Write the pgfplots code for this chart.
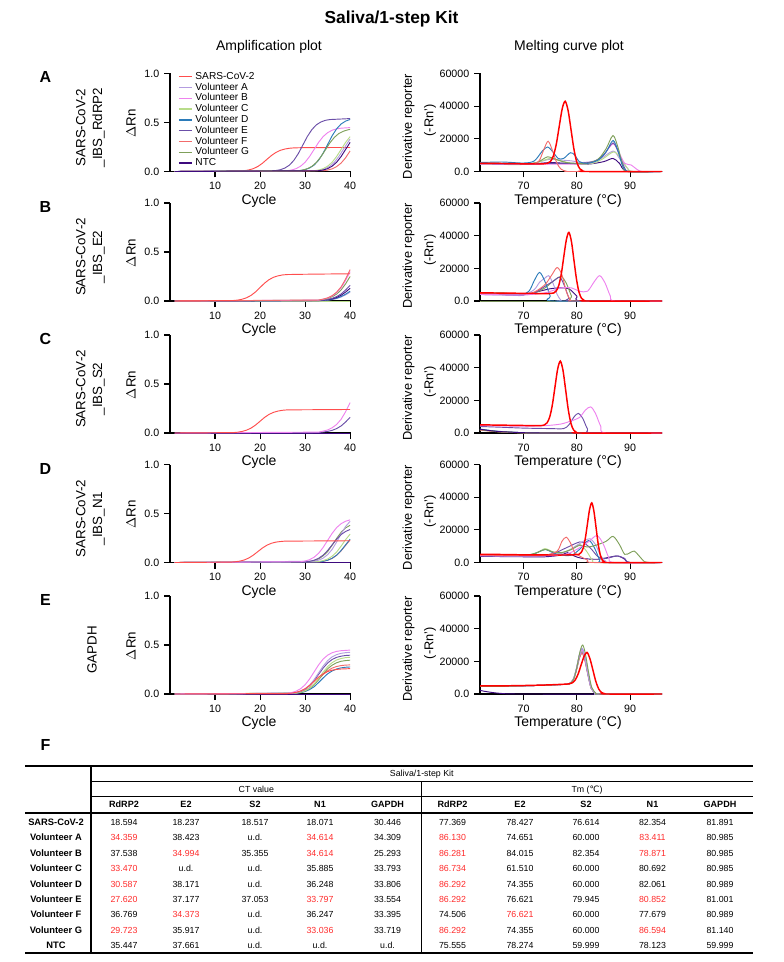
\documentclass[border=0pt]{standalone}
\usepackage{fontspec}
\setmainfont{Liberation Sans}
\newfontfamily\dejavu{DejaVu Sans}
\usepackage{pgfplots}
\pgfplotsset{compat=1.18}

\definecolor{cS}{HTML}{FF4D4D}
\definecolor{cSm}{HTML}{FF0000}
\definecolor{cA}{HTML}{B49CE0}
\definecolor{cB}{HTML}{EE82EE}
\definecolor{cC}{HTML}{B8DC8A}
\definecolor{cD}{HTML}{2B7BB9}
\definecolor{cE}{HTML}{6B4FA8}
\definecolor{cF}{HTML}{F26B6B}
\definecolor{cG}{HTML}{7FA05A}
\definecolor{cN}{HTML}{3D0A7E}
\definecolor{tred}{HTML}{FF2A2A}

\pgfplotsset{
 base/.style={scale only axis, anchor=south west, axis x line*=bottom, axis y line*=left,
   axis line style={-, line width=1pt, black}, tick style={line width=0.8pt, black},
   major tick length=4.5pt, tick align=outside, clip=false,
   tick label style={font=\fontsize{8}{9}\selectfont},
   /pgf/number format/assume math mode=true,
   every axis plot/.append style={line width=0.7pt, mark=none}},
 amp/.style={base, width=135.75pt, height=73.5pt, xmin=0, xmax=40.2, ymin=0, ymax=1,
   xtick={10,20,30,40}, ytick={0,0.5,1}, yticklabels={0.0,0.5,1.0}},
 melt/.style={base, width=136.5pt, height=73.5pt, xmin=61.8, xmax=96, ymin=0, ymax=60000,
   xtick={70,80,90}, ytick={0,20000,40000,60000}, yticklabels={0.0,20000,40000,60000},
   scaled y ticks=false, every axis plot/.append style={smooth, tension=0.5}},
}

\newcommand{\R}[1]{\textcolor{tred}{#1}}
\newcommand{\trow}[7]{%
 \node[font=\fontsize{7}{8}\selectfont\bfseries] at (56,#1) {#2};
 \node at (124,#1) {#3}; \node at (186,#1) {#4}; \node at (255,#1) {#5};
 \node at (320,#1) {#6}; \node at (387.5,#1) {#7};}
\newcommand{\trowb}[6]{%
 \node at (452.5,#1) {#2}; \node at (520,#1) {#3}; \node at (586,#1) {#4};
 \node at (652.5,#1) {#5}; \node at (720,#1) {#6};}

\begin{document}
\begin{tikzpicture}
\begin{scope}[x=0.75pt,y=-0.75pt]
\path[use as bounding box] (0,0) rectangle (783,962);
% titles
\node[font=\fontsize{13}{15}\selectfont\bfseries] at (391.5,19) {Saliva/1-step Kit};
\node[font=\fontsize{10.5}{12}\selectfont] at (269,46.7) {Amplification plot};
\node[font=\fontsize{10.5}{12}\selectfont] at (569,46.7) {Melting curve plot};
% panel letters
\foreach \l/\b in {A/171.5,B/301,C/433,D/562.5,E/694}{
  \node[font=\fontsize{12}{14}\selectfont\bfseries] at (45.5,\b-94) {\l};
  \node[font=\fontsize{10}{12}\selectfont, rotate=90] at (131,\b-48) {$\Delta$Rn};
  \node[font=\fontsize{9.6}{11}\selectfont, rotate=90] at (408.5,\b-45) {Derivative reporter};
  \node[font=\fontsize{9.6}{11}\selectfont, rotate=90] at (430,\b-51) {(-Rn')};
  \node[font=\fontsize{10.5}{12}\selectfont] at (259,\b+29) {Cycle};
  \node[font=\fontsize{10.5}{12}\selectfont] at (568,\b+29) {Temperature (°C)};
}
\node[font=\fontsize{10}{12.5}\selectfont, rotate=90, align=center] at (90.5,127.5) {SARS-CoV-2\\\_IBS\_RdRP2};
\node[font=\fontsize{10}{12.5}\selectfont, rotate=90, align=center] at (90.5,257) {SARS-CoV-2\\\_IBS\_E2};
\node[font=\fontsize{10}{12.5}\selectfont, rotate=90, align=center] at (90.5,389) {SARS-CoV-2\\\_IBS\_S2};
\node[font=\fontsize{10}{12.5}\selectfont, rotate=90, align=center] at (90.5,518.5) {SARS-CoV-2\\\_IBS\_N1};
\node[font=\fontsize{10}{12.5}\selectfont, rotate=90, align=center] at (92,650) {GAPDH};
\node[font=\fontsize{12}{14}\selectfont\bfseries] at (45.5,745) {F};
% table
\draw[line width=1.5pt] (25,765.7) -- (752.5,765.7);
\draw[line width=0.9pt] (91,781.7) -- (752.5,781.7);
\draw[line width=0.9pt] (91,796.7) -- (752.5,796.7);
\draw[line width=1.3pt] (25,812.7) -- (752.5,812.7);
\draw[line width=1.8pt] (25,952.7) -- (752.5,952.7);
\draw[line width=0.9pt] (91,765.7) -- (91,952.7);
\draw[line width=0.9pt] (421.5,781.7) -- (421.5,952.7);
\begin{scope}[every node/.style={font=\fontsize{6.6}{7.5}\selectfont, inner sep=0pt, text height=4.8pt, text depth=0pt, anchor=center}]
\node at (421.75,773.7) {Saliva/1-step Kit};
\node at (256.3,789.2) {CT value};
\node at (587,789.2) {Tm ({\dejavu ℃})};
\begin{scope}[every node/.append style={font=\fontsize{6.8}{7.5}\selectfont\bfseries}]
\trow{804.7}{}{RdRP2}{E2}{S2}{N1}{GAPDH}
\trowb{804.7}{RdRP2}{E2}{S2}{N1}{GAPDH}
\end{scope}
\trow{822.3}{SARS-CoV-2}{18.594}{18.237}{18.517}{18.071}{30.446}
\trowb{822.3}{77.369}{78.427}{76.614}{82.354}{81.891}
\trow{837.7}{Volunteer A}{\R{34.359}}{38.423}{u.d.}{\R{34.614}}{34.309}
\trowb{837.7}{\R{86.130}}{74.651}{60.000}{\R{83.411}}{80.985}
\trow{853.05}{Volunteer B}{37.538}{\R{34.994}}{35.355}{\R{34.614}}{25.293}
\trowb{853.05}{\R{86.281}}{84.015}{82.354}{\R{78.871}}{80.985}
\trow{868.4}{Volunteer C}{\R{33.470}}{u.d.}{u.d.}{35.885}{33.793}
\trowb{868.4}{\R{86.734}}{61.510}{60.000}{80.692}{80.985}
\trow{883.8}{Volunteer D}{\R{30.587}}{38.171}{u.d.}{36.248}{33.806}
\trowb{883.8}{\R{86.292}}{74.355}{60.000}{82.061}{80.989}
\trow{899.2}{Volunteer E}{\R{27.620}}{37.177}{37.053}{\R{33.797}}{33.554}
\trowb{899.2}{\R{86.292}}{76.621}{79.945}{\R{80.852}}{81.001}
\trow{914.55}{Volunteer F}{36.769}{\R{34.373}}{u.d.}{36.247}{33.395}
\trowb{914.55}{74.506}{\R{76.621}}{60.000}{77.679}{80.989}
\trow{929.9}{Volunteer G}{\R{29.723}}{35.917}{u.d.}{\R{33.036}}{33.719}
\trowb{929.9}{\R{86.292}}{74.355}{60.000}{\R{86.594}}{81.140}
\trow{945.3}{NTC}{35.447}{37.661}{u.d.}{u.d.}{u.d.}
\trowb{945.3}{75.555}{78.274}{59.999}{78.123}{59.999}
\end{scope}
\end{scope}

% ================= Amplification A
\begin{axis}[amp, at={(127.5pt,-128.625pt)},
  legend style={at={(0.045,1.04)}, anchor=north west, draw=none, fill=none, inner sep=0pt, outer sep=0pt,
    font=\fontsize{7.6}{8}\selectfont, row sep=-2.9pt},
  legend cell align=left,
  legend image code/.code={\draw[#1, line width=1pt] (0pt,0pt) -- (10pt,0pt);}]
\addplot[cS] coordinates {(1,0)(15.5,0.004)(16.5,0.008)(17.5,0.016)(18.5,0.029)(19.5,0.051)(20.5,0.083)(21.5,0.123)(22.5,0.162)(23.5,0.194)(24.5,0.216)(25.5,0.229)(26.5,0.237)(27.5,0.241)(30,0.244)(40,0.245)};
\addplot[cA] coordinates {(1,0)(32.5,0.008)(33.5,0.015)(34.5,0.029)(35.5,0.054)(36.5,0.094)(37.5,0.153)(38.5,0.225)(39.5,0.297)(40,0.331)};
\addplot[cB] coordinates {(1,0)(26,0.008)(27,0.015)(28,0.029)(29,0.054)(30,0.094)(31,0.153)(32,0.225)(33,0.297)(34,0.356)(35,0.396)(36,0.421)(37,0.435)(38,0.442)(40,0.448)};
\addplot[cC] coordinates {(1,0)(32,0.008)(33,0.015)(34,0.029)(35,0.054)(36,0.094)(37,0.153)(38,0.225)(39,0.297)(40,0.356)};
\addplot[cD] coordinates {(1,0)(29,0.01)(30,0.019)(31,0.036)(32,0.065)(33,0.115)(34,0.186)(35,0.275)(36,0.364)(37,0.435)(38,0.485)(39,0.514)(40,0.531)};
\addplot[cE] coordinates {(1,0)(23.5,0.01)(24.5,0.018)(25.5,0.035)(26.5,0.064)(27.5,0.113)(28.5,0.183)(29.5,0.27)(30.5,0.357)(31.5,0.427)(32.5,0.476)(33.5,0.505)(34.5,0.522)(35.5,0.53)(40,0.54)};
\addplot[cF] coordinates {(1,0)(34,0.008)(35,0.014)(36,0.027)(37,0.05)(38,0.086)(39,0.14)(40,0.21)};
\addplot[cG] coordinates {(1,0)(28.5,0.008)(29.5,0.015)(30.5,0.029)(31.5,0.052)(32.5,0.092)(33.5,0.149)(34.5,0.22)(35.5,0.291)(36.5,0.348)(37.5,0.388)(38.5,0.411)(39.5,0.425)(40,0.43)};
\addplot[cN] coordinates {(1,0)(33,0.008)(34,0.015)(35,0.029)(36,0.054)(37,0.094)(38,0.153)(39,0.225)(40,0.297)};
\legend{SARS-CoV-2,Volunteer A,Volunteer B,Volunteer C,Volunteer D,Volunteer E,Volunteer F,Volunteer G,NTC}
\end{axis}

% ================= Amplification B
\begin{axis}[amp, at={(127.5pt,-225.75pt)}]
\addplot[cC] coordinates {(1,0)(40,0)};
\addplot[cA] coordinates {(1,0)(33,0.003)(34,0.005)(35,0.009)(36,0.015)(37,0.025)(38,0.041)(39,0.063)(40,0.09)};
\addplot[cD] coordinates {(1,0)(33,0.003)(34,0.006)(35,0.01)(36,0.017)(37,0.028)(38,0.045)(39,0.07)(40,0.1)};
\addplot[cN] coordinates {(1,0)(33,0.004)(34,0.008)(35,0.013)(36,0.022)(37,0.036)(38,0.059)(39,0.091)(40,0.13)};
\addplot[cE] coordinates {(1,0)(33,0.005)(34,0.01)(35,0.016)(36,0.027)(37,0.045)(38,0.072)(39,0.112)(40,0.16)};
\addplot[cG] coordinates {(1,0)(33,0.008)(34,0.015)(35,0.025)(36,0.043)(37,0.07)(38,0.113)(39,0.175)(40,0.25)};
\addplot[cB] coordinates {(1,0)(33,0.009)(34,0.018)(35,0.03)(36,0.051)(37,0.084)(38,0.135)(39,0.21)(40,0.30)};
\addplot[cF] coordinates {(1,0)(33,0.01)(34,0.019)(35,0.032)(36,0.054)(37,0.09)(38,0.144)(39,0.224)(40,0.32)};
\addplot[cS] coordinates {(1,0)(14,0.005)(15,0.009)(16,0.018)(17,0.033)(18,0.057)(19,0.093)(20,0.138)(21,0.182)(22,0.218)(23,0.242)(24,0.257)(25,0.266)(26,0.27)(30,0.273)(40,0.278)};
\end{axis}

% ================= Amplification C
\begin{axis}[amp, at={(127.5pt,-324.75pt)}]
\addplot[cA] coordinates {(1,0)(40,0)};
\addplot[cC] coordinates {(1,0)(40,0)};
\addplot[cD] coordinates {(1,0)(40,0)};
\addplot[cF] coordinates {(1,0)(40,0)};
\addplot[cG] coordinates {(1,0)(40,0)};
\addplot[cN] coordinates {(1,0)(40,0)};
\addplot[cE] coordinates {(1,0)(33,0.005)(34,0.01)(35,0.016)(36,0.027)(37,0.045)(38,0.072)(39,0.112)(40,0.16)};
\addplot[cB] coordinates {(1,0)(33,0.009)(34,0.019)(35,0.031)(36,0.053)(37,0.087)(38,0.14)(39,0.217)(40,0.31)};
\addplot[cS] coordinates {(1,0)(14,0.004)(15,0.008)(16,0.016)(17,0.029)(18,0.05)(19,0.081)(20,0.12)(21,0.159)(22,0.19)(23,0.211)(24,0.224)(25,0.232)(26,0.236)(40,0.24)};
\end{axis}

% ================= Amplification D
\begin{axis}[amp, at={(127.5pt,-421.875pt)}]
\addplot[cN] coordinates {(1,0)(40,0)};
\addplot[cF] coordinates {(1,0)(33,0.006)(34,0.012)(35,0.023)(36,0.042)(37,0.073)(38,0.119)(39,0.175)(40,0.231)};
\addplot[cD] coordinates {(1,0)(33,0.006)(34,0.012)(35,0.023)(36,0.043)(37,0.075)(38,0.122)(39,0.18)(40,0.238)};
\addplot[cC] coordinates {(1,0)(33,0.01)(34,0.019)(35,0.035)(36,0.064)(37,0.106)(38,0.167)(39,0.233)(40,0.29)};
\addplot[cG] coordinates {(1,0)(31,0.011)(32,0.02)(33,0.037)(34,0.067)(35,0.111)(36,0.175)(37,0.245)(38,0.309)(39,0.353)(40,0.38)};
\addplot[cA] coordinates {(1,0)(32,0.013)(33,0.024)(34,0.044)(35,0.08)(36,0.133)(37,0.209)(38,0.292)(39,0.368)(40,0.42)};
\addplot[cE] coordinates {(1,0)(30,0.0065)(31,0.012)(32,0.023)(33,0.043)(34,0.075)(35,0.122)(36,0.18)(37,0.238)(38,0.285)(39,0.317)(40,0.337)};
\addplot[cB] coordinates {(1,0)(29,0.008)(30,0.015)(31,0.029)(32,0.054)(33,0.094)(34,0.153)(35,0.225)(36,0.297)(37,0.356)(38,0.396)(39,0.421)(40,0.435)};
\addplot[cS] coordinates {(1,0)(13.5,0.004)(14.5,0.0075)(15.5,0.014)(16.5,0.026)(17.5,0.046)(18.5,0.075)(19.5,0.111)(20.5,0.147)(21.5,0.176)(22.5,0.196)(23.5,0.208)(24.5,0.214)(25.5,0.218)(40,0.222)};
\end{axis}

% ================= Amplification E
\begin{axis}[amp, at={(127.5pt,-520.5pt)}]
\addplot[cN] coordinates {(1,0)(40,0)};
\addplot[cD] coordinates {(1,0)(28,0.007)(29,0.013)(30,0.025)(31,0.045)(32,0.074)(33,0.117)(34,0.163)(35,0.206)(36,0.235)(37,0.255)(38,0.267)(39,0.273)(40,0.276)};
\addplot[cF] coordinates {(1,0)(27,0.005)(28,0.01)(29,0.02)(30,0.036)(31,0.063)(32,0.102)(33,0.15)(34,0.198)(35,0.237)(36,0.264)(37,0.281)(38,0.29)(39,0.295)(40,0.297)};
\addplot[cG] coordinates {(1,0)(28,0.009)(29,0.016)(30,0.031)(31,0.056)(32,0.093)(33,0.146)(34,0.204)(35,0.257)(36,0.294)(37,0.319)(38,0.334)(39,0.341)(40,0.345)};
\addplot[cC] coordinates {(1,0)(28,0.0095)(29,0.018)(30,0.033)(31,0.06)(32,0.101)(33,0.158)(34,0.222)(35,0.279)(36,0.32)(37,0.347)(38,0.362)(39,0.371)(40,0.375)};
\addplot[cE] coordinates {(1,0)(27,0.007)(28,0.014)(29,0.026)(30,0.048)(31,0.084)(32,0.136)(33,0.2)(34,0.264)(35,0.316)(36,0.352)(37,0.374)(38,0.386)(39,0.393)(40,0.396)};
\addplot[cA] coordinates {(1,0)(27,0.008)(28,0.015)(29,0.028)(30,0.051)(31,0.09)(32,0.146)(33,0.215)(34,0.284)(35,0.34)(36,0.379)(37,0.402)(38,0.415)(39,0.422)(40,0.426)};
\addplot[cB] coordinates {(1,0)(26,0.008)(27,0.015)(28,0.029)(29,0.054)(30,0.094)(31,0.153)(32,0.225)(33,0.297)(34,0.356)(35,0.396)(36,0.421)(37,0.435)(38,0.442)(40,0.448)};
\addplot[cS] coordinates {(1,0)(26,0.0047)(27,0.0088)(28,0.017)(29,0.031)(30,0.054)(31,0.088)(32,0.13)(33,0.172)(34,0.206)(35,0.229)(36,0.243)(37,0.251)(38,0.255)(40,0.259)};
\end{axis}

% ================= Melt A
\begin{axis}[melt, at={(360pt,-128.625pt)}]
\addplot[cN] coordinates {(61.8,5000)(70,4800)(73,5000)(75,5500)(78,5000)(82,4500)(85,6000)(86.8,8000)(88,5000)(89.5,0)(96,0)};
\addplot[cA] coordinates {(61.8,4600)(70,4500)(73,6000)(75,7500)(77,7000)(79,6500)(81,5500)(84,7000)(86.8,12500)(88,8000)(89.5,2000)(90.5,0)(96,0)};
\addplot[cC] coordinates {(61.8,4500)(70,4300)(73,6000)(75,8000)(77,6500)(80,4500)(83,5000)(85,8000)(87,12000)(88.5,7000)(89.5,2000)(90.5,0)(96,0)};
\addplot[cB] coordinates {(61.8,4500)(70,4300)(75,4500)(80,4500)(83,5500)(85,10000)(86.8,17000)(88,11000)(89,5000)(90.2,4000)(91.2,1500)(92.3,0)(96,0)};
\addplot[cE] coordinates {(61.8,4800)(70,4600)(75,5000)(80,5000)(83,6000)(85,10000)(86.8,17500)(88,10000)(89,2000)(90,0)(96,0)};
\addplot[cG] coordinates {(61.8,5000)(70,4800)(72.5,5500)(74.5,9000)(76,7500)(78,5500)(80,5000)(82,5000)(84,7500)(85.5,14000)(86.8,22000)(87.8,14000)(88.6,4000)(89.5,0)(96,0)};
\addplot[cD] coordinates {(61.8,5500)(66,5800)(70,5200)(72,6500)(73.5,12500)(74.5,15000)(75.5,12000)(76.5,8000)(77.5,8000)(78.8,11500)(79.6,10000)(80.5,6000)(82,5000)(84,7000)(85.5,12000)(86.8,19000)(87.8,12000)(88.5,4000)(89.2,500)(90,0)(96,0)};
\addplot[cF] coordinates {(61.8,5000)(70,4800)(72.2,5000)(73,7000)(73.8,13500)(74.6,18500)(75.4,13000)(76.2,5500)(77,1500)(78,200)(79,0)(96,0)};
\addplot[cSm, line width=1.1pt] coordinates {(61.8,5000)(66,4900)(70,4700)(73,4600)(74.5,5030)(75.05,6200)(75.6,9670)(76.15,17000)(76.7,27900)(77.25,38500)(77.8,43000)(78.35,37400)(78.9,25700)(79.45,13700)(80,5570)(80.55,1700)(81.1,430)(81.7,0)(96,0)};
\end{axis}

% ================= Melt B
\begin{axis}[melt, at={(360pt,-225.75pt)}]
\addplot[cC] coordinates {(61.8,0)(96,0)};
\addplot[cN] coordinates {(61.8,4200)(70,4000)(73,6000)(75,7500)(77,8000)(78.5,7500)(80,3000)(81,0)(96,0)};
\addplot[cA] coordinates {(61.8,4000)(68,3500)(70,3500)(72,7000)(73,11500)(74,14000)(74.7,15500)(75.5,11000)(76.3,4000)(77,500)(77.6,0)(96,0)};
\addplot[cG] coordinates {(61.8,4500)(66,5000)(68,4200)(70,4000)(72,5000)(74,8000)(75.5,12000)(77,15000)(78,11000)(79,3000)(79.8,0)(96,0)};
\addplot[cE] coordinates {(61.8,4000)(70,3800)(72,5000)(74,9000)(75.5,12000)(76.8,14500)(77.7,9000)(78.5,2000)(79.2,0)(96,0)};
\addplot[cD] coordinates {(61.8,4500)(66,4500)(69.5,4000)(71,6000)(72,12500)(73,17500)(74,12000)(75,3000)(75.8,0)(96,0)};
\addplot[cF] coordinates {(61.8,4500)(70,4300)(72,5500)(74,10000)(75.3,16000)(76.3,20500)(77.2,16000)(78,6000)(78.8,500)(79.5,0)(96,0)};
\addplot[cB] coordinates {(61.8,4000)(70,3800)(74,5000)(77,8000)(79,8000)(80.5,6000)(82,6000)(83.3,12000)(84.3,15500)(85.3,11000)(86.3,3000)(87.2,0)(96,0)};
\addplot[cSm, line width=1.1pt] coordinates {(61.8,5000)(70,4700)(74,4500)(75.65,4900)(76.13,6150)(76.6,9540)(77.08,16650)(77.55,27250)(78.03,37550)(78.5,42000)(78.98,36450)(79.45,25000)(79.93,13350)(80.4,5490)(80.88,1660)(81.35,415)(81.9,0)(96,0)};
\end{axis}

% ================= Melt C
\begin{axis}[melt, at={(360pt,-324.75pt)}]
\addplot[cA] coordinates {(61.8,2200)(65,1000)(70,200)(75,0)(96,0)};
\addplot[cC] coordinates {(61.8,2000)(65,900)(70,150)(75,0)(96,0)};
\addplot[cD] coordinates {(61.8,2400)(65,1100)(70,200)(75,0)(96,0)};
\addplot[cF] coordinates {(61.8,1800)(65,800)(70,100)(75,0)(96,0)};
\addplot[cG] coordinates {(61.8,2100)(65,900)(70,150)(75,0)(96,0)};
\addplot[cN] coordinates {(61.8,2300)(65,1000)(70,200)(75,0)(96,0)};
\addplot[cE] coordinates {(61.8,4000)(66,3500)(70,3000)(75,2700)(77.5,2700)(78.5,5000)(79.5,10000)(80.3,12000)(81.1,9000)(82,2500)(83,0)(96,0)};
\addplot[cB] coordinates {(61.8,4500)(70,4200)(74,4500)(77,5500)(79,7500)(80.5,9500)(81.6,14000)(82.6,16000)(83.5,12000)(84.5,4000)(85.5,0)(96,0)};
\addplot[cSm, line width=1.1pt] coordinates {(61.8,5000)(66,4800)(70,4600)(73,4500)(73.9,4940)(74.4,6250)(74.9,9810)(75.4,17300)(75.9,28450)(76.4,39300)(76.9,44000)(77.4,38200)(77.9,26200)(78.4,14000)(78.9,5760)(79.4,1750)(79.9,440)(80.5,0)(96,0)};
\end{axis}

% ================= Melt D
\begin{axis}[melt, at={(360pt,-421.875pt)}]
\addplot[cN] coordinates {(61.8,3800)(70,3500)(74,3500)(77,4500)(78.2,6000)(79.5,4000)(81,2500)(84,2000)(86.5,3500)(87.8,4000)(89,2000)(90,0)(96,0)};
\addplot[cE] coordinates {(61.8,4000)(70,3800)(75,5000)(78,9000)(80,12000)(81,12500)(82.5,9000)(84,3500)(85.5,2500)(87.5,4000)(89,2500)(90,0)(96,0)};
\addplot[cC] coordinates {(61.8,4500)(70,4300)(72.5,6000)(74,8500)(75.5,6500)(77,5500)(79,8500)(80.6,11000)(81.8,7000)(83,1000)(84,0)(96,0)};
\addplot[cD] coordinates {(61.8,4500)(70,4300)(72.5,6000)(74,8000)(75.5,6000)(77,4500)(79,4500)(80.5,8000)(82.2,13500)(83.3,9000)(84.3,1500)(85,0)(96,0)};
\addplot[cA] coordinates {(61.8,4200)(70,4000)(75,4500)(78,6500)(80,10500)(81.5,13500)(82.5,14500)(83.5,11000)(84.5,4000)(85.5,500)(86,0)(96,0)};
\addplot[cG] coordinates {(61.8,4800)(70,4500)(72.5,6000)(74,8000)(75.5,6500)(77,6000)(79,8000)(80.5,10500)(82,9500)(83.5,10500)(85.5,13000)(86.8,16000)(88,11000)(89,5000)(90,6000)(90.8,7000)(91.7,4000)(92.7,500)(93.5,0)(96,0)};
\addplot[cB] coordinates {(61.8,4200)(70,4000)(75,4200)(78,5000)(80.5,9000)(82.3,13000)(83.8,16500)(85,11000)(86,3000)(87,0)(96,0)};
\addplot[cF] coordinates {(61.8,4500)(70,4300)(74,4500)(76.3,7000)(77.2,13000)(78,15500)(78.8,12000)(79.6,6000)(80.5,4000)(82,1500)(83,0)(96,0)};
\addplot[cSm, line width=1.1pt] coordinates {(61.8,5000)(66,4900)(70,4700)(75,4600)(78,4600)(80,4800)(80.4,5050)(80.8,6110)(81.2,8970)(81.6,15000)(82,23950)(82.4,32700)(82.8,36500)(83.2,31500)(83.6,21600)(84,11500)(84.4,4720)(84.8,1410)(85.2,350)(85.7,0)(96,0)};
\end{axis}

% ================= Melt E
\begin{axis}[melt, at={(360pt,-520.5pt)}]
\addplot[cN] coordinates {(61.8,2200)(63.5,1200)(66,300)(70,0)(96,0)};
\addplot[cF] coordinates {(61.8,4600)(66,4700)(70,5000)(74,5400)(77,5800)(78.45,6109)(79.3,8465)(79.895,14070)(80.49,21865)(81,25000)(81.51,20365)(82.105,11170)(82.7,3365)(83.55,209)(84.2,0)(96,0)};
\addplot[cE] coordinates {(61.8,4600)(66,4700)(70,5000)(74,5400)(77,5800)(78.45,6120)(79.3,8600)(79.895,14500)(80.49,22700)(81,26000)(81.51,21200)(82.105,11600)(82.7,3500)(83.55,220)(84.2,0)(96,0)};
\addplot[cC] coordinates {(61.8,4600)(66,4700)(70,5000)(74,5400)(77,5800)(78.45,6125)(79.3,8670)(79.895,14715)(80.49,23120)(81,26500)(81.51,21620)(82.105,11815)(82.7,3570)(83.55,225)(84.2,0)(96,0)};
\addplot[cD] coordinates {(61.8,4600)(66,4700)(70,5000)(74,5400)(77,5800)(78.45,6136)(79.3,8800)(79.895,15145)(80.49,23950)(81,27500)(81.51,22450)(82.105,12245)(82.7,3700)(83.55,236)(84.2,0)(96,0)};
\addplot[cB] coordinates {(61.8,4600)(66,4700)(70,5000)(74,5400)(77,5800)(78.45,6130)(79.3,8735)(79.895,14930)(80.49,23535)(81,27000)(81.51,22035)(82.105,12030)(82.7,3635)(83.55,231)(84.2,0)(96,0)};
\addplot[cA] coordinates {(61.8,4600)(66,4700)(70,5000)(74,5400)(77,5800)(78.45,6140)(79.3,8870)(79.895,15360)(80.49,24370)(81,28000)(81.51,22870)(82.105,12460)(82.7,3770)(83.55,242)(84.2,0)(96,0)};
\addplot[cG] coordinates {(61.8,4600)(66,4700)(70,5000)(74,5400)(77,5800)(78.55,6160)(79.4,9140)(79.995,16220)(80.59,26040)(81.1,30000)(81.61,24540)(82.2,13320)(82.8,4040)(83.65,264)(84.3,0)(96,0)};
\addplot[cSm, line width=1.1pt] coordinates {(61.8,5000)(66,5000)(70,5200)(74,5500)(77,5900)(78.6,6215)(79.15,6860)(79.7,8630)(80.25,12340)(80.8,17840)(81.35,23000)(81.9,25500)(82.45,21700)(83,14840)(83.55,7840)(84.1,3130)(84.65,860)(85.2,215)(85.8,0)(96,0)};
\end{axis}
\end{tikzpicture}
\end{document}
